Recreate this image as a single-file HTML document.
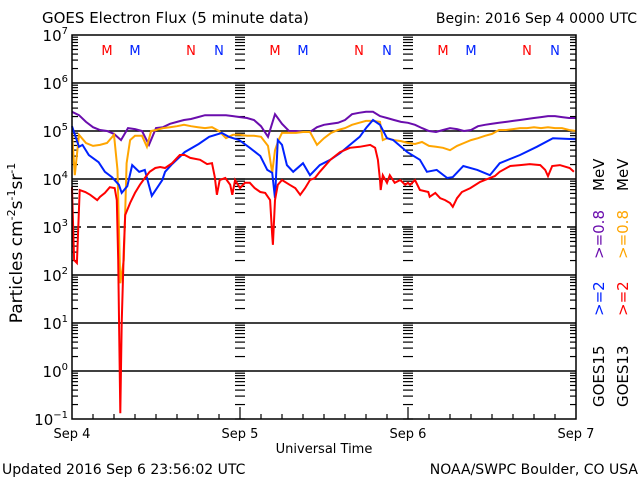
<!DOCTYPE html>
<html><head><meta charset="utf-8"><style>
body{margin:0;background:#fff;}
svg{display:block;font-family:"DejaVu Sans","Liberation Sans",sans-serif;}
</style></head><body>
<svg id="chart" width="640" height="480" viewBox="0 0 640 480">
<text x="42" y="23" font-size="15">GOES Electron Flux (5 minute data)</text>
<text x="637" y="23" font-size="14" text-anchor="end">Begin: 2016 Sep 4 0000 UTC</text>
<g id="grid"></g>
<g id="ticks"></g>
<g id="series"></g>
<rect x="72" y="35" width="504" height="384" fill="none" stroke="#000" stroke-width="1.5"/>
<g id="ylabels"></g>
<g id="xlabels"></g>
<g id="marks"></g>
<text transform="translate(22,243) rotate(-90)" font-size="17" text-anchor="middle">Particles cm<tspan dy="-7" font-size="11">-2</tspan><tspan dy="7">s</tspan><tspan dy="-7" font-size="11">-1</tspan><tspan dy="7">sr</tspan><tspan dy="-7" font-size="11">-1</tspan></text>
<text x="324" y="453" font-size="13" text-anchor="middle">Universal Time</text>
<text x="2" y="474" font-size="14">Updated 2016 Sep  6 23:56:02 UTC</text>
<text x="638" y="474" font-size="14" text-anchor="end">NOAA/SWPC Boulder, CO USA</text>
<g font-size="15">
<text transform="translate(604,407) rotate(-90)">GOES15</text>
<text transform="translate(604,316) rotate(-90)" fill="#0022ff">&gt;=2</text>
<text transform="translate(604,259) rotate(-90)" fill="#6a0dad">&gt;=0.8</text>
<text transform="translate(604,191) rotate(-90)">MeV</text>
<text transform="translate(628,407) rotate(-90)">GOES13</text>
<text transform="translate(628,316) rotate(-90)" fill="#ff0000">&gt;=2</text>
<text transform="translate(628,259) rotate(-90)" fill="#ffa500">&gt;=0.8</text>
<text transform="translate(628,191) rotate(-90)">MeV</text>
</g>
</svg>
<script>
const NS="http://www.w3.org/2000/svg";
const yExponents=[7,6,5,4,3,2,1,0,-1];
const dayLabels=["Sep 4","Sep 5","Sep 6","Sep 7"];
const markerLabels=["M","M","N","N","M","M","N","N","M","M","N","N"];
const markerHours=[5,9,17,21,29,33,41,45,53,57,65,69];
const markerColors=["#ff0000","#0022ff","#ff0000","#0022ff","#ff0000","#0022ff","#ff0000","#0022ff","#ff0000","#0022ff","#ff0000","#0022ff"];
const purpleLog=[5.40,5.33,5.19,5.08,5.02,5.00,4.94,4.81,5.06,5.04,5.00,4.71,5.06,5.08,5.15,5.19,5.23,5.25,5.29,5.33,5.33,5.33,5.33,5.31,5.29,5.27,5.23,5.10,4.88,5.35,5.15,5.00,5.00,4.98,4.98,5.08,5.13,5.15,5.17,5.23,5.35,5.38,5.40,5.40,5.31,5.27,5.23,5.19,5.17,5.13,5.06,5.00,4.98,5.02,5.06,5.04,5.00,5.02,5.10,5.13,5.15,5.17,5.19,5.21,5.23,5.25,5.27,5.29,5.31,5.31,5.29,5.27,5.27];
const purpleHours=purpleLog.map((v,i)=>i);
const orangeHours=[0,0.4,1,2,3,4,5,6,6.5,6.9,7.4,7.8,8.3,9,10,10.7,11.3,12,13,14,15,16,17,18,19,20,21,22,23,24,25,26,27,28,28.6,29,29.5,30,31,32,33,34,35,36,37,38,39,40,41,42,43,44,44.4,45,46,47,48,49,50,51,52,53,54,55,56,57,58,59,60,61,62,63,64,65,66,67,68,69,70,71,72];
const orangeLog=[4.96,4.08,4.92,4.75,4.69,4.71,4.75,4.92,4.19,1.83,2.31,4.33,4.81,4.90,4.90,4.67,5.00,5.02,5.06,5.08,5.10,5.13,5.10,5.08,5.06,5.08,5.00,4.85,4.92,4.92,4.90,4.90,4.88,4.69,4.13,4.60,4.81,4.96,4.96,4.96,4.98,4.98,4.71,4.85,4.96,5.02,5.06,5.13,5.17,5.21,5.21,5.19,4.81,4.85,4.81,4.79,4.75,4.73,4.77,4.69,4.67,4.65,4.60,4.69,4.75,4.81,4.85,4.90,4.94,5.02,5.02,5.04,5.06,5.06,5.08,5.06,5.08,5.06,5.06,5.02,5.00];
const blueHours=[0,1,1.5,2.4,3.8,4.7,5.7,6.7,7.1,7.9,8.6,9.6,10.4,11.4,12.9,13.3,14.3,16.1,18.1,19.6,21.4,22.4,23.9,25.4,26.9,27.9,28.6,29,29.4,30,30.7,31.6,33,34,35.4,36.9,38.3,39.7,41.1,42.1,43,44,45,45.9,47.9,49.7,50.7,52.1,53.6,54.4,55.9,57.9,59.7,61.1,64,66.4,68.7,72];
const blueLog=[5.10,4.67,4.71,4.50,4.35,4.15,4.04,3.88,3.71,3.85,4.29,4.15,4.19,3.65,3.98,4.15,4.31,4.56,4.73,4.88,4.96,4.88,4.81,4.65,4.48,4.19,4.13,3.60,4.81,4.71,4.29,4.15,4.33,4.08,4.29,4.40,4.54,4.71,4.88,5.08,5.23,5.13,4.85,4.81,4.56,4.40,4.15,4.19,4.02,4.04,4.27,4.19,4.08,4.33,4.50,4.67,4.85,4.83];
const redHours=[0,0.3,0.7,1.1,1.9,2.6,3.6,4,4.7,5.4,6.1,6.4,6.6,6.9,7.1,7.4,7.6,8.3,9,9.7,10.4,11.1,11.9,12.6,13.3,14.3,15,15.4,16.1,16.9,18.3,19.3,20,20.4,20.7,21.1,21.9,22.6,22.9,23.3,24,24.7,25.4,26.1,26.9,27.6,28.3,28.6,28.7,29,29.4,30,31.1,31.9,32.6,33.3,34,34.7,35.4,36.9,38.3,39.7,41.1,42.6,43.3,43.7,44,44.1,44.4,45,45.4,46.1,46.9,47.6,48,48.3,49,49.7,50.9,51.1,51.9,52.6,53.3,54,54.4,55,55.7,56.9,58.3,59.7,60.4,61.1,62.6,64,65.4,66.9,67.6,68,68.6,69.7,71.1,71.7];
const redLog=[3.83,2.31,2.25,3.77,3.73,3.67,3.56,3.63,3.71,3.83,3.81,3.56,2.31,-0.88,1.0,2.52,3.25,3.50,3.71,3.88,4.02,4.15,4.23,4.25,4.23,4.33,4.44,4.50,4.50,4.44,4.40,4.31,4.33,4.04,3.67,3.98,4.02,3.88,3.67,3.98,3.81,3.92,3.92,3.81,3.73,3.71,3.56,2.83,2.63,3.56,3.88,3.98,3.88,3.81,3.67,3.81,3.98,4.02,4.15,4.40,4.56,4.65,4.67,4.71,4.65,4.40,3.98,3.77,4.08,3.92,4.08,3.92,3.98,3.88,3.92,3.88,3.98,3.77,3.73,3.63,3.71,3.60,3.56,3.50,3.42,3.60,3.73,3.81,3.94,4.02,4.06,4.15,4.27,4.29,4.31,4.29,4.19,4.06,4.27,4.29,4.23,4.15];

const L=72,R=576,T=35,B=419;
const xS=h=>L+(R-L)*h/72;
const yS=e=>T+(7-e)*(B-T)/8;
function mk(tag,attrs,parent){const el=document.createElementNS(NS,tag);for(const k in attrs)el.setAttribute(k,attrs[k]);parent.appendChild(el);return el;}
const grid=document.getElementById('grid'),ticks=document.getElementById('ticks');
yExponents.forEach(e=>{
  if(e===7||e===-1)return;
  const ln=mk('line',{x1:L,x2:R,y1:yS(e),y2:yS(e),stroke:'#000','stroke-width':1.5},grid);
  if(e===3)ln.setAttribute('stroke-dasharray','9,6');
  
  
});
// log minor ticks
const axX=[[L,1,6],[240,1,5],[240,-1,5],[408,1,5],[408,-1,5],[R,-1,6]];
for(let e=-1;e<7;e++){for(let m=1;m<10;m++){
  const y=yS(e+Math.log10(m));
  axX.forEach(a=>{const len=(m===1)?(a[0]===L||a[0]===R?0:5):a[2];if(len)mk('line',{x1:a[0],x2:a[0]+a[1]*len,y1:y,y2:y,stroke:'#000','stroke-width':1.2},ticks);});
}}
for(let h=3;h<72;h+=3){const big=h%24===0;mk('line',{x1:xS(h),x2:xS(h),y1:B,y2:B-(big?12:5),stroke:'#000','stroke-width':1.2},ticks);}
// series
const ser=document.getElementById('series');
function line(hours,vals,color,name){
  const pts=hours.map((h,i)=>xS(h).toFixed(1)+','+yS(vals[i]).toFixed(1)).join(' ');
  const p=mk('polyline',{points:pts,fill:'none',stroke:color,'stroke-width':2,'stroke-linejoin':'miter'},ser);
  
  
}
line(purpleHours,purpleLog,'#6a0dad','series-goes15-0.8mev');
line(orangeHours,orangeLog,'#ffa500','series-goes13-0.8mev');
line(blueHours,blueLog,'#0022ff','series-goes15-2mev');
line(redHours,redLog,'#ff0000','series-goes13-2mev');
// y labels
const yl=document.getElementById('ylabels');
yExponents.forEach(e=>{
  const t=mk('text',{x:68,y:yS(e)+6,'font-size':15,'text-anchor':'end'},yl);
  
  
  t.innerHTML='10<tspan dy="-7" font-size="10">'+(e<0?'\u2212'+(-e):e)+'</tspan>';
});
const xl=document.getElementById('xlabels');
dayLabels.forEach((d,i)=>{
  const t=mk('text',{x:xS(i*24),y:438,'font-size':13,'text-anchor':'middle'},xl);
  
  
  t.textContent=d;
});
const mg=document.getElementById('marks');
markerLabels.forEach((m,i)=>{
  const t=mk('text',{x:xS(markerHours[i]),y:55,'font-size':13,'text-anchor':'middle',fill:markerColors[i]},mg);
  
  
  t.textContent=m;
});
</script>
</body></html>
